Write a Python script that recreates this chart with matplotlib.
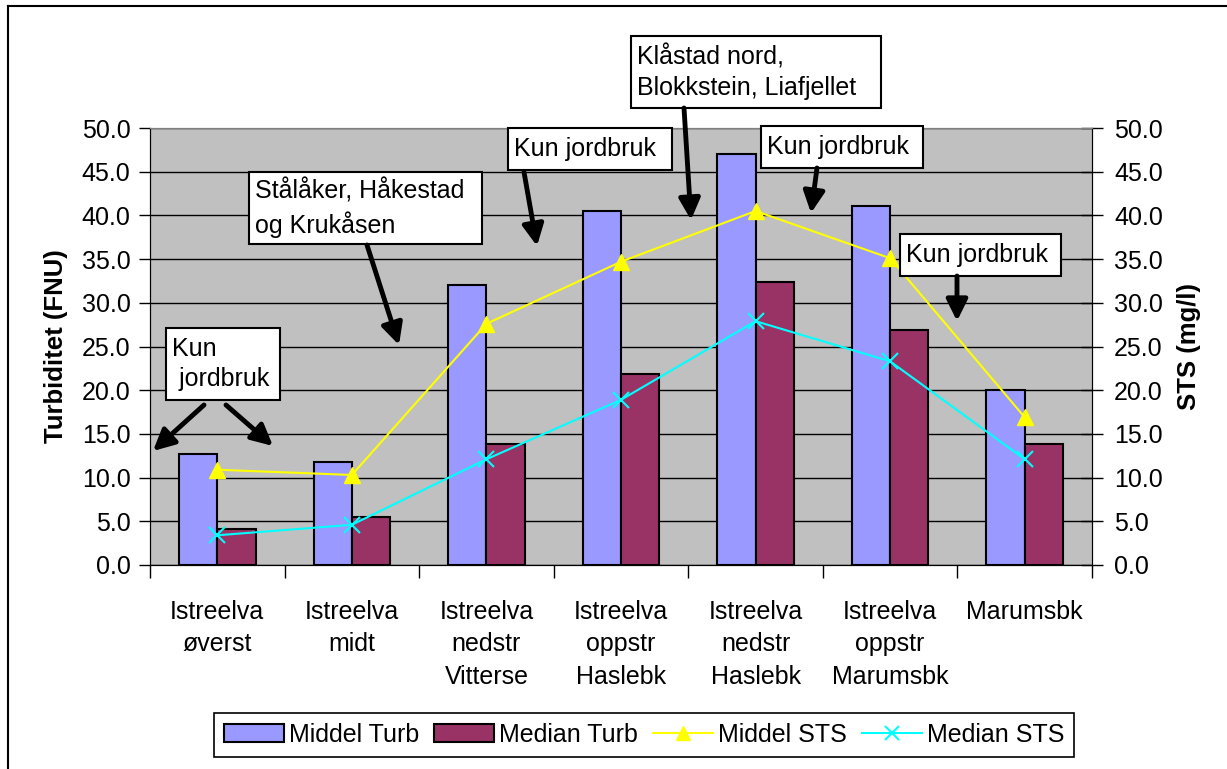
#!/usr/bin/env python3
# Turbiditet / STS per sampling point, bars on left axis and lines on right axis

import matplotlib
matplotlib.use("Agg")
import matplotlib.pyplot as plt
import numpy as np
from matplotlib.patches import Rectangle, Patch
from matplotlib.lines import Line2D

# ---- data ----
stations = ["Istreelva\nøverst", "Istreelva\nmidt", "Istreelva\nnedstr\nVitterse",
            "Istreelva\noppstr\nHaslebk", "Istreelva\nnedstr\nHaslebk",
            "Istreelva\noppstr\nMarumsbk", "Marumsbk"]
middel_turb = [12.7, 11.8, 32.0, 40.5, 47.0, 41.1, 20.0]
median_turb = [4.1, 5.5, 13.9, 21.8, 32.4, 26.9, 13.9]
middel_sts = [10.9, 10.3, 27.6, 34.7, 40.5, 35.1, 16.9]
median_sts = [3.4, 4.6, 12.1, 18.9, 27.9, 23.3, 12.1]
y_ticks = np.arange(0, 55, 5)

W, H = 1227, 769
FS = 18
plt.rcParams['font.family'] = ["Liberation Sans", "DejaVu Sans"]


def fx(px):
    return px / W


def fy(py):
    return 1 - py / H


fig = plt.figure(figsize=(W / 100, H / 100), dpi=100)
fig.patch.set_facecolor("white")

ax = fig.add_axes([fx(150), fy(565), fx(1092) - fx(150), fy(128) - fy(565)])
ax.set_facecolor("#C0C0C0")

x = np.arange(len(stations))
bw = 0.285
ax.bar(x - bw / 2, middel_turb, bw, color="#9999FF", edgecolor="black", lw=1.5, zorder=3)
ax.bar(x + bw / 2, median_turb, bw, color="#993366", edgecolor="black", lw=1.5, zorder=3)

ax.set_xlim(-0.5, len(stations) - 0.5)
ax.set_ylim(0, 50)
ax.set_yticks(y_ticks)
ax.set_yticklabels(["{:.1f}".format(v) for v in y_ticks], fontsize=FS)
ax.yaxis.grid(True, color="black", lw=1)
ax.set_axisbelow(True)
ax.tick_params(axis='y', direction='out', length=8, width=1, pad=6)

# category boundaries as ticks, labels at centers
ax.set_xticks(np.arange(-0.5, len(stations), 1.0))
ax.set_xticklabels([])
ax.set_xticks(x, minor=True)
ax.set_xticklabels(stations, minor=True, fontsize=FS, linespacing=1.45, va='top')
ax.tick_params(axis='x', which='major', direction='out', length=9, width=1)
ax.tick_params(axis='x', which='minor', length=0, pad=25)

ax.set_ylabel("Turbiditet (FNU)", fontsize=18.5, fontweight="bold", labelpad=10)

ax.spines["top"].set_color("#808080")
ax.spines["left"].set_color("black")
ax.spines["bottom"].set_color("black")
ax.spines["right"].set_color("black")

ax2 = ax.twinx()
ax2.set_ylim(0, 50)
ax2.plot(x, middel_sts, color="#FFFF00", lw=1.5, marker="^", markersize=11,
         markerfacecolor="#FFFF00", markeredgecolor="#FFFF00", zorder=5)
ax2.plot(x, median_sts, color="#00FFFF", lw=1.5, marker="x", markersize=11,
         markeredgewidth=1.5, zorder=5)
ax2.set_yticks(y_ticks)
ax2.set_yticklabels(["{:.1f}".format(v) for v in y_ticks], fontsize=FS)
ax2.tick_params(axis='y', direction='inout', length=16, width=1, pad=8)
ax2.set_ylabel("STS (mg/l)", fontsize=18.5, fontweight="bold", labelpad=10)
ax2.spines["top"].set_color("#808080")

# ---- annotation boxes with arrows (pixel positions) ----
notes = [
    ((166, 328, 280, 400), "Kun\n jordbruk", [((204, 405), (153, 451)), ((226, 405), (273, 446))]),
    ((249, 172, 482, 244), "Stålåker, Håkestad\nog Krukåsen", [((367, 245), (399, 345))]),
    ((508, 128, 672, 170), "Kun jordbruk", [((524, 172), (537, 246))]),
    ((631, 36, 881, 108), "Klåstad nord,\nBlokkstein, Liafjellet", [((684, 108), (691, 220))]),
    ((761, 126, 923, 168), "Kun jordbruk", [((817, 168), (811, 213))]),
    ((900, 234, 1061, 276), "Kun jordbruk", [((957, 276), (957, 321))]),
]
for (x0, y0, x1, y1), txt, arrows in notes:
    fig.add_artist(Rectangle((fx(x0), fy(y1)), fx(x1) - fx(x0), fy(y0) - fy(y1),
                             transform=fig.transFigure, facecolor="white",
                             edgecolor="black", lw=1.5, zorder=10))
    fig.text(fx(x0 + 6), (fy(y0) + fy(y1)) / 2, txt, fontsize=FS, ha='left',
             va='center', linespacing=1.35, zorder=11)
    for tail, head in arrows:
        fig.add_artist(plt.Annotation("", xy=(fx(head[0]), fy(head[1])),
                                      xytext=(fx(tail[0]), fy(tail[1])),
                                      xycoords='figure fraction',
                                      arrowprops=dict(arrowstyle='-|>', lw=3.5,
                                                      color='black',
                                                      mutation_scale=32,
                                                      shrinkA=0, shrinkB=0),
                                      zorder=12))

# ---- legend ----
handles = [Patch(facecolor="#9999FF", edgecolor="black", lw=1.5),
           Patch(facecolor="#993366", edgecolor="black", lw=1.5),
           Line2D([], [], color="#FFFF00", lw=1.5, marker="^", markersize=10),
           Line2D([], [], color="#00FFFF", lw=1.5, marker="x", markersize=10,
                  markeredgewidth=1.5)]
labels = ["Middel Turb", "Median Turb", "Middel STS", "Median STS"]
leg = fig.legend(handles, labels, loc='center', bbox_to_anchor=(fx(644), fy(734.5)),
                 ncol=4, fancybox=False, framealpha=1, edgecolor="black",
                 prop={'size': FS}, handlelength=2.4,
                 handletextpad=0.2, columnspacing=0.6, borderpad=0.4)
leg.get_frame().set_linewidth(1.2)

# outer chart frame (left and top edges visible)
fig.add_artist(Line2D([fx(8), fx(8)], [fy(6), 0], transform=fig.transFigure,
                      color="black", lw=1.5))
fig.add_artist(Line2D([fx(8), 1], [fy(6), fy(6)], transform=fig.transFigure,
                      color="black", lw=1.5))

fig.savefig("out.png", dpi=100)
